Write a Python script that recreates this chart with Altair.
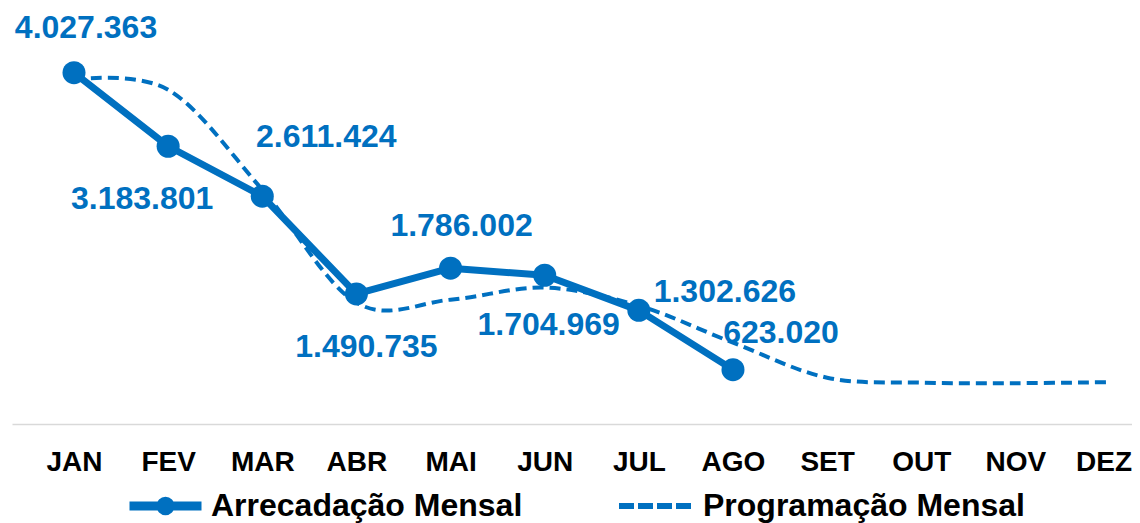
import json
import altair as alt
import pandas as pd

# ---- data -------------------------------------------------------------
meses = ["JAN", "FEV", "MAR", "ABR", "MAI", "JUN", "JUL", "AGO", "SET", "OUT", "NOV", "DEZ"]
arrecadacao = [4027363, 3183801, 2611424, 1490735, 1786002, 1704969, 1302626, 623020]
programacao = [3947000, 3832000, 2686000, 1391000, 1425000, 1563000, 1356000, 932000,
               531000, 474000, 468000, 480000]
series = ["Arrecadação Mensal", "Programação Mensal"]

# label offsets (pixels) relative to each point
label_dx = [12, -26, 64, 10, 11, 4, 86, 48]
label_dy = [-45, 53, -59, 53, -42, 50, -18, -37]

BLUE = "#0070C0"
FONT = "Liberation Sans"

df_a = pd.DataFrame({
    "i": list(range(len(arrecadacao))),
    "mes": meses[:len(arrecadacao)],
    "valor": arrecadacao,
    "serie_a": series[0],
    "rotulo": [f"{v:,}".replace(",", ".") for v in arrecadacao],
})
df_p = pd.DataFrame({
    "i": list(range(len(programacao))),
    "mes": meses,
    "valor": programacao,
    "serie_p": series[1],
})

x_scale = alt.Scale(domain=[-0.6586, 11.2386], nice=False, zero=False)
y_scale = alt.Scale(domain=[0, 4768350], nice=False, zero=True)

x_axis = alt.Axis(
    values=list(range(12)),
    labelExpr=json.dumps(meses) + "[datum.value]",
    ticks=False, grid=False,
    domainColor="#d9d9d9", domainWidth=1.5,
    labelFont=FONT, labelFontSize=28, labelFontWeight="bold", labelColor="#000000",
    labelPadding=24, labelFlush=30, labelFlushOffset=22, labelOverlap=False, title=None,
)

legend_common = dict(
    title=None, orient="none", direction="horizontal",
    labelFont=FONT, labelFontSize=32, labelFontWeight="bold", labelColor="#000000",
    symbolSize=5184, labelLimit=0,
)

legend_a = alt.Legend(
    legendX=113, legendY=457.5, labelOffset=5,
    symbolType="M-1,0H1M0.13,0A0.13,0.13,0,1,1,-0.13,0A0.13,0.13,0,1,1,0.13,0",
    symbolStrokeWidth=9, symbolStrokeColor=BLUE, symbolFillColor=BLUE,
    **legend_common,
)
legend_p = alt.Legend(
    legendX=604, legendY=459, labelOffset=9,
    symbolType="stroke", symbolStrokeWidth=6, symbolStrokeColor=BLUE,
    **legend_common,
)

x_enc = alt.X("i:Q", scale=x_scale, axis=x_axis)
y_enc = alt.Y("valor:Q", scale=y_scale, axis=None)

prog_line = alt.Chart(df_p).mark_line(
    interpolate="cardinal", tension=0, strokeWidth=4, color=BLUE, strokeDash=[11, 6]
).encode(x=x_enc, y=y_enc)

# carries only the legend entry of the planned series (draws no rows)
prog_legend = alt.Chart(df_p).transform_filter("datum.i < 0").mark_line(
    color=BLUE, strokeWidth=6
).encode(
    x=x_enc, y=y_enc,
    strokeDash=alt.StrokeDash("serie_p:N", scale=alt.Scale(domain=[series[1]], range=[[15, 4]]),
                              legend=legend_p),
)

arr_line = alt.Chart(df_a).mark_line(
    strokeWidth=7, strokeJoin="round", strokeCap="round"
).encode(
    x=x_enc, y=y_enc,
    color=alt.Color("serie_a:N", scale=alt.Scale(domain=[series[0]], range=[BLUE]), legend=legend_a),
)

arr_pts = alt.Chart(df_a).mark_circle(size=530, opacity=1, color=BLUE).encode(x=x_enc, y=y_enc)

label_layers = []
for k in range(len(arrecadacao)):
    label_layers.append(
        alt.Chart(df_a.iloc[[k]]).mark_text(
            font=FONT, fontSize=32, fontWeight="bold", color=BLUE,
            align="center", baseline="middle", dx=label_dx[k], dy=label_dy[k],
        ).encode(x=x_enc, y=y_enc, text="rotulo:N")
    )

chart = alt.layer(*label_layers, prog_line, prog_legend, arr_line, arr_pts).properties(
    width=1120, height=416,
    padding={"left": 4, "top": 0, "right": 0, "bottom": 99},
    autosize=alt.AutoSizeParams(type="none"),
    background="white",
).configure_view(stroke=None)

chart.save("out.html", embed_options={"renderer": "svg", "actions": False})
